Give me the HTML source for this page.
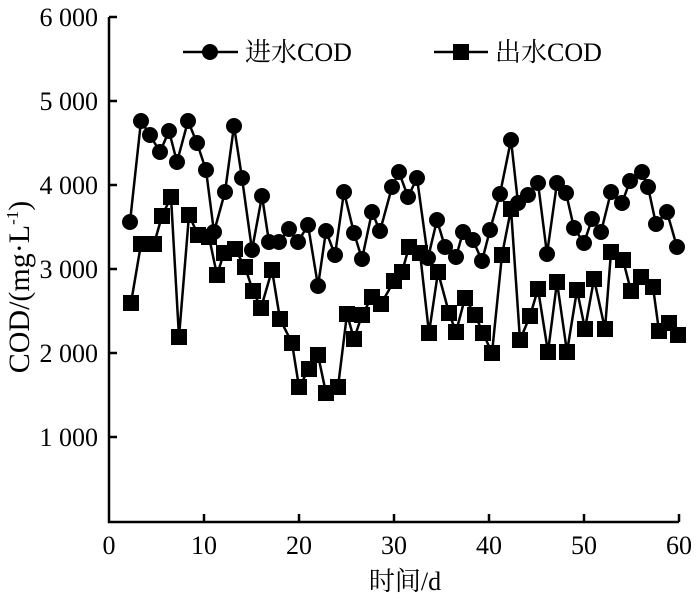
<!DOCTYPE html>
<html><head><meta charset="utf-8"><style>body{margin:0;background:#fff}svg{display:block}text{font-family:"Liberation Serif","Noto Serif CJK SC",serif;fill:#000}</style></head><body>
<svg width="700" height="601" viewBox="0 0 700 601">
<g stroke="#000" stroke-width="2.5" fill="none">
<path d="M109,17V522H679"/>
<path d="M109,17h8M109,101h8M109,185h8M109,269h8M109,353h8M109,437h8"/>
<path d="M204,522v-8M299,522v-8M394,522v-8M489,522v-8M584,522v-8M679,522v-8"/>
</g>
<g font-size="26" text-anchor="end">
<text x="98" y="26">6 000</text><text x="98" y="110">5 000</text><text x="98" y="194">4 000</text><text x="98" y="278">3 000</text><text x="98" y="362">2 000</text><text x="98" y="446">1 000</text>
</g>
<g font-size="26" text-anchor="middle">
<text x="109" y="554">0</text><text x="204" y="554">10</text><text x="299" y="554">20</text><text x="394" y="554">30</text><text x="489" y="554">40</text><text x="584" y="554">50</text><text x="679" y="554">60</text>
<text x="405" y="590">时间/d</text>
</g>
<text font-size="30" text-anchor="middle" transform="translate(29,287) rotate(-90)">COD/(mg·L<tspan font-size="17" dy="-11">-1</tspan><tspan dy="11">)</tspan></text>
<polyline fill="none" stroke="#000" stroke-width="2.5" points="130,222 141,121 150,135 160,152 169,131 177,162 188,121 197,143 206,170 214,232 225,192 234,126 242,178 252,250 262,196 269,242 279,242 289,229 298,242 308,225 318,286 326,231 335,255 344,192 354,233 362,259 372,212 380,231 392,187 399,172 408,197 417,178 428,258 437,220 445,247 456,257 463,232 473,240 482,261 490,230 500,194 511,140 518,203 528,195 538,183 547,254 557,183 566,193 574,228 584,243 592,219 601,232 611,192 622,203 630,181 642,172 648,187 656,224 667,212 677,247"/>
<g fill="#000">
<circle cx="130" cy="222" r="8"/><circle cx="141" cy="121" r="8"/><circle cx="150" cy="135" r="8"/><circle cx="160" cy="152" r="8"/><circle cx="169" cy="131" r="8"/><circle cx="177" cy="162" r="8"/><circle cx="188" cy="121" r="8"/><circle cx="197" cy="143" r="8"/><circle cx="206" cy="170" r="8"/><circle cx="214" cy="232" r="8"/><circle cx="225" cy="192" r="8"/><circle cx="234" cy="126" r="8"/><circle cx="242" cy="178" r="8"/><circle cx="252" cy="250" r="8"/><circle cx="262" cy="196" r="8"/><circle cx="269" cy="242" r="8"/><circle cx="279" cy="242" r="8"/><circle cx="289" cy="229" r="8"/><circle cx="298" cy="242" r="8"/><circle cx="308" cy="225" r="8"/><circle cx="318" cy="286" r="8"/><circle cx="326" cy="231" r="8"/><circle cx="335" cy="255" r="8"/><circle cx="344" cy="192" r="8"/><circle cx="354" cy="233" r="8"/><circle cx="362" cy="259" r="8"/><circle cx="372" cy="212" r="8"/><circle cx="380" cy="231" r="8"/><circle cx="392" cy="187" r="8"/><circle cx="399" cy="172" r="8"/><circle cx="408" cy="197" r="8"/><circle cx="417" cy="178" r="8"/><circle cx="428" cy="258" r="8"/><circle cx="437" cy="220" r="8"/><circle cx="445" cy="247" r="8"/><circle cx="456" cy="257" r="8"/><circle cx="463" cy="232" r="8"/><circle cx="473" cy="240" r="8"/><circle cx="482" cy="261" r="8"/><circle cx="490" cy="230" r="8"/><circle cx="500" cy="194" r="8"/><circle cx="511" cy="140" r="8"/><circle cx="518" cy="203" r="8"/><circle cx="528" cy="195" r="8"/><circle cx="538" cy="183" r="8"/><circle cx="547" cy="254" r="8"/><circle cx="557" cy="183" r="8"/><circle cx="566" cy="193" r="8"/><circle cx="574" cy="228" r="8"/><circle cx="584" cy="243" r="8"/><circle cx="592" cy="219" r="8"/><circle cx="601" cy="232" r="8"/><circle cx="611" cy="192" r="8"/><circle cx="622" cy="203" r="8"/><circle cx="630" cy="181" r="8"/><circle cx="642" cy="172" r="8"/><circle cx="648" cy="187" r="8"/><circle cx="656" cy="224" r="8"/><circle cx="667" cy="212" r="8"/><circle cx="677" cy="247" r="8"/>
</g>
<polyline fill="none" stroke="#000" stroke-width="2.5" points="131,303 141,244 154,244 162,216 171,197 179,337 189,215 198,235 209,237 217,275 224,253 235,249 245,267 253,291 261,308 272,270 280,319 292,343 299,387 309,369 318,355 326,393 338,387 347,314 354,339 362,315 372,297 381,304 394,281 402,272 409,247 420,253 429,333 438,272 449,313 456,332 465,298 475,315 483,333 492,353 502,255 511,209 520,340 530,316 538,289 548,352 557,282 567,352 577,290 585,329 594,279 605,329 611,252 623,260 631,291 641,277 653,287 659,331 669,323 678,335"/>
<g fill="#000">
<rect x="123" y="295" width="16" height="16"/><rect x="133" y="236" width="16" height="16"/><rect x="146" y="236" width="16" height="16"/><rect x="154" y="208" width="16" height="16"/><rect x="163" y="189" width="16" height="16"/><rect x="171" y="329" width="16" height="16"/><rect x="181" y="207" width="16" height="16"/><rect x="190" y="227" width="16" height="16"/><rect x="201" y="229" width="16" height="16"/><rect x="209" y="267" width="16" height="16"/><rect x="216" y="245" width="16" height="16"/><rect x="227" y="241" width="16" height="16"/><rect x="237" y="259" width="16" height="16"/><rect x="245" y="283" width="16" height="16"/><rect x="253" y="300" width="16" height="16"/><rect x="264" y="262" width="16" height="16"/><rect x="272" y="311" width="16" height="16"/><rect x="284" y="335" width="16" height="16"/><rect x="291" y="379" width="16" height="16"/><rect x="301" y="361" width="16" height="16"/><rect x="310" y="347" width="16" height="16"/><rect x="318" y="385" width="16" height="16"/><rect x="330" y="379" width="16" height="16"/><rect x="339" y="306" width="16" height="16"/><rect x="346" y="331" width="16" height="16"/><rect x="354" y="307" width="16" height="16"/><rect x="364" y="289" width="16" height="16"/><rect x="373" y="296" width="16" height="16"/><rect x="386" y="273" width="16" height="16"/><rect x="394" y="264" width="16" height="16"/><rect x="401" y="239" width="16" height="16"/><rect x="412" y="245" width="16" height="16"/><rect x="421" y="325" width="16" height="16"/><rect x="430" y="264" width="16" height="16"/><rect x="441" y="305" width="16" height="16"/><rect x="448" y="324" width="16" height="16"/><rect x="457" y="290" width="16" height="16"/><rect x="467" y="307" width="16" height="16"/><rect x="475" y="325" width="16" height="16"/><rect x="484" y="345" width="16" height="16"/><rect x="494" y="247" width="16" height="16"/><rect x="503" y="201" width="16" height="16"/><rect x="512" y="332" width="16" height="16"/><rect x="522" y="308" width="16" height="16"/><rect x="530" y="281" width="16" height="16"/><rect x="540" y="344" width="16" height="16"/><rect x="549" y="274" width="16" height="16"/><rect x="559" y="344" width="16" height="16"/><rect x="569" y="282" width="16" height="16"/><rect x="577" y="321" width="16" height="16"/><rect x="586" y="271" width="16" height="16"/><rect x="597" y="321" width="16" height="16"/><rect x="603" y="244" width="16" height="16"/><rect x="615" y="252" width="16" height="16"/><rect x="623" y="283" width="16" height="16"/><rect x="633" y="269" width="16" height="16"/><rect x="645" y="279" width="16" height="16"/><rect x="651" y="323" width="16" height="16"/><rect x="661" y="315" width="16" height="16"/><rect x="670" y="327" width="16" height="16"/>
</g>
<g stroke="#000" stroke-width="2.5"><path d="M183,52H238M434,52H488"/></g>
<circle cx="210" cy="52" r="8" fill="#000"/>
<rect x="453" y="44" width="16" height="16" fill="#000"/>
<text x="245" y="61" font-size="26">进水COD</text>
<text x="495" y="61" font-size="26">出水COD</text>
</svg>
</body></html>
